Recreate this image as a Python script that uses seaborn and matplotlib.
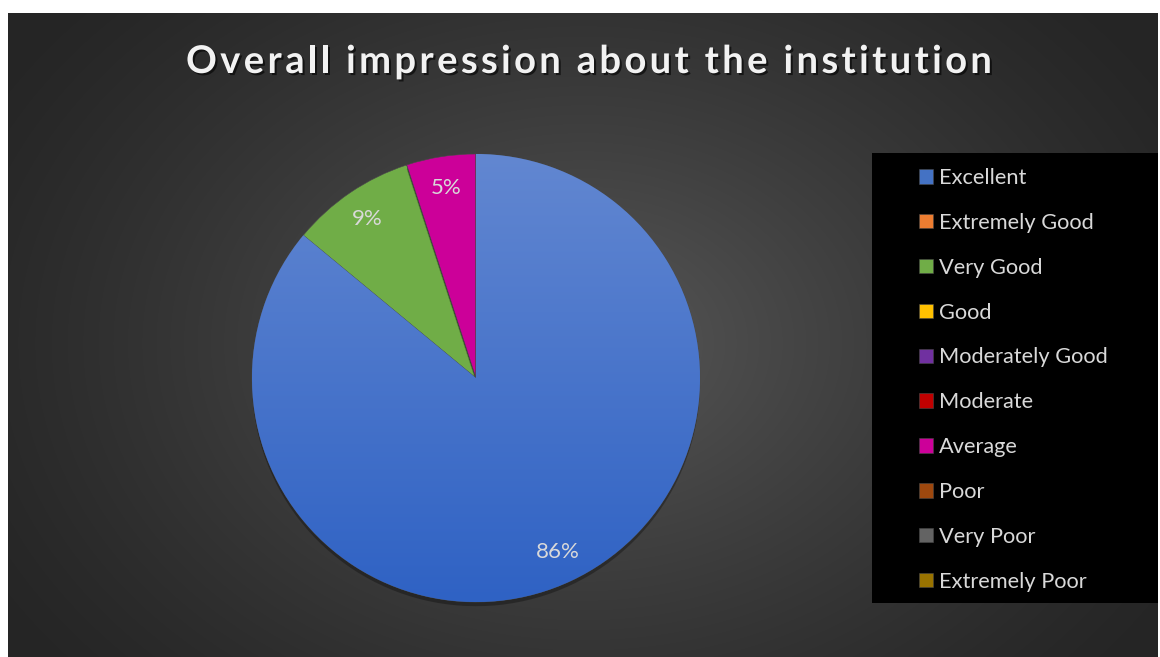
import numpy as np
import matplotlib
matplotlib.use("Agg")
import matplotlib.pyplot as plt
import matplotlib.patheffects as pe
from matplotlib.patches import Rectangle
import seaborn as sns

# data
categories = ["Excellent", "Extremely Good", "Very Good", "Good", "Moderately Good",
              "Moderate", "Average", "Poor", "Very Poor", "Extremely Poor"]
values = [86, 0, 9, 0, 0, 0, 5, 0, 0, 0]
colors = ["#4472C4", "#ED7D31", "#70AD47", "#FFC000", "#7030A0",
          "#C00000", "#CC0099", "#9E480E", "#636363", "#997300"]
title = "Overall impression about the institution"

sns.set_theme(style="dark")
plt.rcParams['font.family'] = ['Lato', 'DejaVu Sans']

W, H = 1160, 657
fig = plt.figure(figsize=(W / 100, H / 100), dpi=100)
fig.patch.set_facecolor("white")

# radial gradient background
bg = fig.add_axes([8 / W, 0, 1150 / W, 644 / H])
bg.set_axis_off()
yy, xx = np.mgrid[0:644, 0:1150]
r = np.sqrt(((xx - 575) / 700.0) ** 2 + ((yy - 330) / 520.0) ** 2)
r = np.clip(r, 0, 1)
shade = 0x25 + (0x58 - 0x25) * (1 - r) ** 1.3
img = np.dstack([shade, shade, shade]) / 255.0
bg.imshow(img, aspect="auto", extent=[0, 1, 0, 1], interpolation="bilinear")
bg.set_xlim(0, 1)
bg.set_ylim(0, 1)

# pie
cx, cy, rad = 476, 378, 224
ax = fig.add_axes([(cx - rad) / W, (H - cy - rad) / H, 2 * rad / W, 2 * rad / H])
ax.set_facecolor("none")
ax.set_axis_off()


def fmt(p):
    return f"{p:.0f}%" if p > 0.5 else ""


wedges, texts, autotexts = ax.pie(
    values, colors=colors, startangle=90, counterclock=False,
    autopct=fmt, pctdistance=0.86,
    wedgeprops=dict(edgecolor="#4a4a4a", linewidth=0.4),
    textprops=dict(color="#d9d9d9", fontsize=16))
for w in wedges:
    w.set_path_effects([pe.SimplePatchShadow(offset=(0, -3), shadow_rgbFace="black", alpha=0.3), pe.Normal()])

# vertical gradient inside the Excellent wedge
grad = np.linspace(0, 1, 256).reshape(-1, 1)
top = np.array([0x62, 0x87, 0xD1]) / 255.0
bot = np.array([0x2F, 0x62, 0xC4]) / 255.0
gimg = top + (bot - top) * grad[..., None]
gimg = np.repeat(gimg, 2, axis=1)
im = ax.imshow(gimg, extent=[-1, 1, -1, 1], aspect="auto", zorder=1.5)
im.set_clip_path(wedges[0])
for t in autotexts:
    t.set_zorder(3)
ax.set_xlim(-1, 1)
ax.set_ylim(-1, 1)

# legend box
fig.patches.append(Rectangle((872 / W, (H - 603) / H), 286 / W, 450 / H,
                             transform=fig.transFigure, facecolor="black",
                             edgecolor="none", zorder=1))
leg = fig.legend(wedges, categories, loc="upper left",
                 bbox_to_anchor=(919 / W, 1 - 168 / H), frameon=False,
                 fontsize=15.7, labelcolor="#d9d9d9", labelspacing=1.14,
                 handlelength=0.64, handleheight=0.64, handletextpad=0.28,
                 borderaxespad=0, borderpad=0)
leg.set_zorder(5)

# title with letter spacing
fp = matplotlib.font_manager.FontProperties(family=['Lato', 'DejaVu Sans'], weight="bold", size=27.5)
renderer = fig.canvas.get_renderer()


def width_of(s):
    w0, _, _ = renderer.get_text_width_height_descent("x", fp, ismath=False)
    w1, _, _ = renderer.get_text_width_height_descent(s + "x", fp, ismath=False)
    return w1 - w0


spacing = 3.3
total = width_of(title) + spacing * (len(title) - 1)
x0 = 589 - total / 2
for i, ch in enumerate(title):
    if ch == " ":
        continue
    x = x0 + width_of(title[:i]) + spacing * i
    fig.text(x / W, 1 - 62 / H, ch, fontproperties=fp, color="#f2f2f2",
             ha="left", va="center",
             path_effects=[pe.withSimplePatchShadow(offset=(1.5, -1.5), shadow_rgbFace="black", alpha=0.6)])

fig.savefig("out.png", dpi=100, facecolor=fig.get_facecolor())
